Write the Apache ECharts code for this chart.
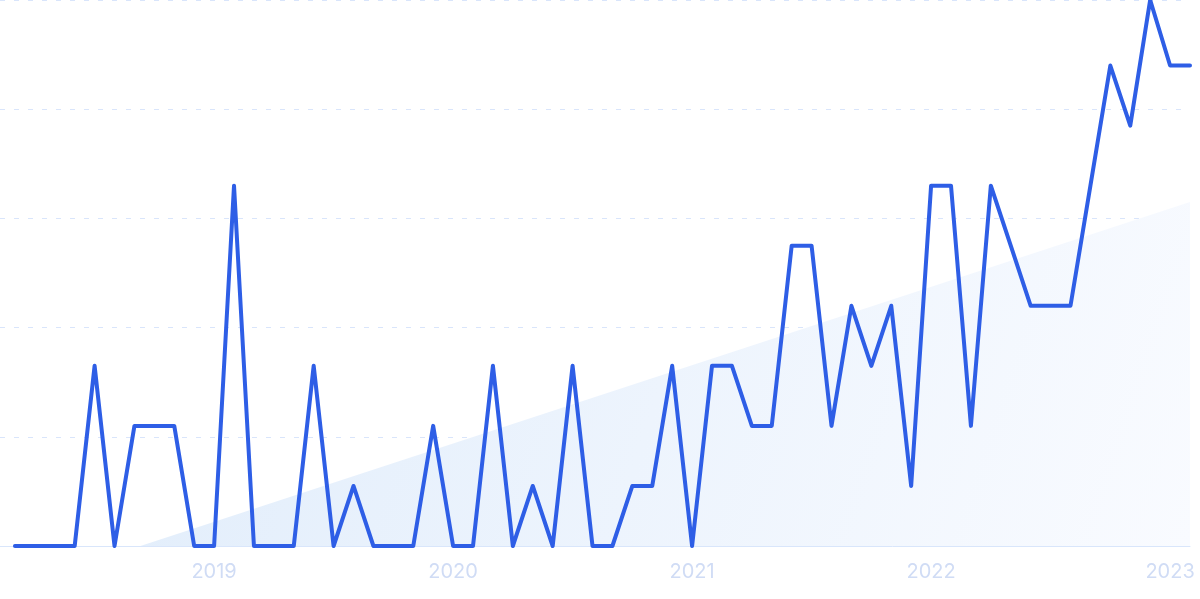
<!DOCTYPE html>
<html>
<head>
<meta charset="utf-8">
<script src="https://cdn.jsdelivr.net/npm/echarts@6/dist/echarts.min.js"></script>
<style>
html,body{margin:0;padding:0;background:#fff;}
#c{width:1200px;height:599px;}
</style>
</head>
<body>
<div id="c"></div>
<script>
const months = [
  "2018-03","2018-04","2018-05","2018-06","2018-07","2018-08","2018-09","2018-10","2018-11","2018-12",
  "2019-01","2019-02","2019-03","2019-04","2019-05","2019-06","2019-07","2019-08","2019-09","2019-10","2019-11","2019-12",
  "2020-01","2020-02","2020-03","2020-04","2020-05","2020-06","2020-07","2020-08","2020-09","2020-10","2020-11","2020-12",
  "2021-01","2021-02","2021-03","2021-04","2021-05","2021-06","2021-07","2021-08","2021-09","2021-10","2021-11","2021-12",
  "2022-01","2022-02","2022-03","2022-04","2022-05","2022-06","2022-07","2022-08","2022-09","2022-10","2022-11","2022-12",
  "2023-01","2023-02"
];
const values = [
  0,0,0,0,33,0,22,22,22,0,
  0,66,0,0,0,33,0,11,0,0,0,22,
  0,0,33,0,11,0,33,0,0,11,11,33,
  0,33,33,22,22,55,55,22,44,33,44,11,
  66,66,22,66,55,44,44,44,66,88,77,100,
  88,88
];
const yearLabels = ["2019","2020","2021","2022","2023"];
const trend = [[6.3, 0], [59, 63]];
const yTicks = [0, 20, 40, 60, 80, 100];

const yearPos = yearLabels.map(y => months.indexOf(y + "-01"));
const lineData = values.map((v, i) => [i, v]);

const chart = echarts.init(document.getElementById('c'), null, {renderer: 'canvas'});
chart.setOption({
  animation: false,
  grid: {left: 0, right: 10, top: 0, bottom: 53, containLabel: false},
  xAxis: {
    type: 'value',
    min: -0.75,
    max: months.length - 1,
    axisLine: {show: true, lineStyle: {color: '#d9e6fb', width: 1}},
    axisTick: {show: false},
    splitLine: {show: false},
    axisLabel: {
      customValues: yearPos,
      color: '#d0dcf5',
      fontSize: 20,
      fontFamily: 'Inter, "Noto Sans", sans-serif',
      margin: 16,
      formatter: function (v) {
        const idx = yearPos.indexOf(Math.round(v));
        return idx >= 0 ? yearLabels[idx] : '';
      }
    }
  },
  yAxis: {
    type: 'value',
    min: yTicks[0],
    max: yTicks[yTicks.length - 1],
    interval: yTicks[1] - yTicks[0],
    axisLine: {show: false},
    axisTick: {show: false},
    axisLabel: {show: false},
    splitLine: {show: true, lineStyle: {color: '#d9e5fb', type: [5, 9], width: 1}}
  },
  series: [
    {
      type: 'line',
      data: trend,
      symbol: 'none',
      silent: true,
      lineStyle: {width: 0, opacity: 0},
      areaStyle: {
        color: new echarts.graphic.LinearGradient(0, 0, 1, 1, [
          {offset: 0, color: '#e1edfb'},
          {offset: 1, color: '#f9fbff'}
        ]),
        opacity: 1
      },
      z: 1
    },
    {
      type: 'line',
      data: lineData,
      symbol: 'none',
      smooth: false,
      lineStyle: {color: '#2e5ee6', width: 4, join: 'round', cap: 'round'},
      z: 3
    }
  ]
});
</script>
</body>
</html>
